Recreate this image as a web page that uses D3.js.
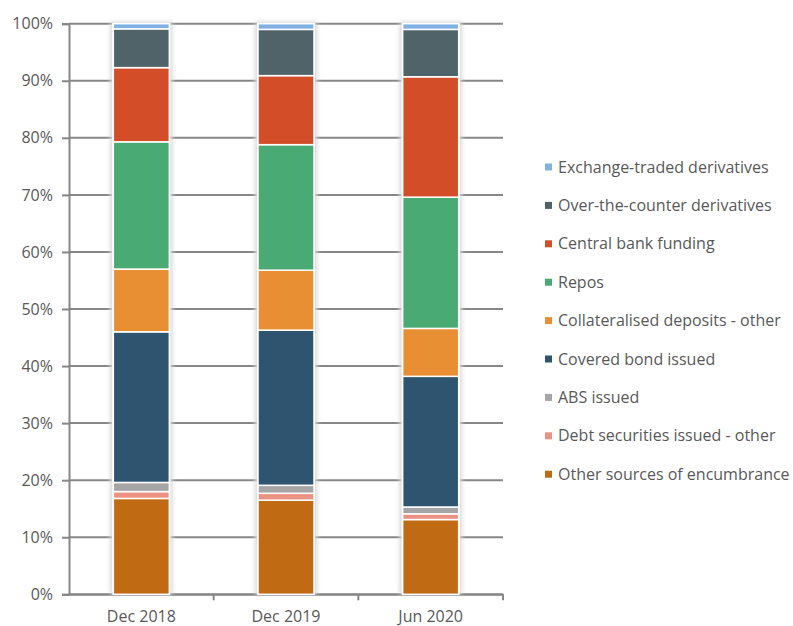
<!DOCTYPE html>
<html>
<head>
<meta charset="utf-8">
<script src="https://cdn.jsdelivr.net/npm/d3@7"></script>
<style>
  html, body { margin: 0; padding: 0; background: #fff; }
  svg { display: block; }
  text { font-family: "Open Sans", "Lato", sans-serif; fill: #595959; }
</style>
</head>
<body>
<svg id="chart" width="793" height="626"></svg>
<script>
// Periods on the x axis
const periods = ["Dec 2018", "Dec 2019", "Jun 2020"];

// Sources of encumbrance, bottom of the stack first
const sources = [
  "Other sources of encumbrance",
  "Debt securities issued - other",
  "ABS issued",
  "Covered bond issued",
  "Collateralised deposits - other",
  "Repos",
  "Central bank funding",
  "Over-the-counter derivatives",
  "Exchange-traded derivatives"
];

// Share of total encumbrance (%), one value per period
const otherSources     = [16.8, 16.5, 13.1];
const debtSecurities   = [1.2, 1.2, 1.0];
const absIssued        = [1.6, 1.4, 1.2];
const coveredBonds     = [26.4, 27.2, 22.9];
const collatDeposits   = [11.0, 10.5, 8.4];
const repos            = [22.3, 22.0, 23.0];
const centralBank      = [13.0, 12.1, 21.1];
const otcDerivatives   = [6.8, 8.1, 8.3];
const etdDerivatives   = [0.9, 1.0, 1.0];

const yTicks = [0, 10, 20, 30, 40, 50, 60, 70, 80, 90, 100];

const colors = {
  "Other sources of encumbrance": "#c06a14",
  "Debt securities issued - other": "#ec9282",
  "ABS issued": "#a5a5a5",
  "Covered bond issued": "#2e5470",
  "Collateralised deposits - other": "#e88f33",
  "Repos": "#49aa73",
  "Central bank funding": "#d24d28",
  "Over-the-counter derivatives": "#4f6369",
  "Exchange-traded derivatives": "#7fb2e2"
};

const seriesValues = [otherSources, debtSecurities, absIssued, coveredBonds,
  collatDeposits, repos, centralBank, otcDerivatives, etdDerivatives];

const rows = periods.map((p, i) => {
  const r = { period: p };
  sources.forEach((s, k) => { r[s] = seriesValues[k][i]; });
  return r;
});

const svg = d3.select("#chart");
const margin = { left: 69, right: 290, top: 23.7, bottom: 32 };
const plotW = 503 - margin.left;
const plotH = 594.3 - margin.top;

const x = d3.scaleBand().domain(periods).range([margin.left, margin.left + plotW]);
const y = d3.scaleLinear().domain([0, 100]).range([margin.top + plotH, margin.top]);
const barW = 56;

const defs = svg.append("defs");
const glow = defs.append("filter").attr("id", "glow")
  .attr("x", "-30%").attr("y", "-10%").attr("width", "160%").attr("height", "120%");
glow.append("feGaussianBlur").attr("in", "SourceGraphic").attr("stdDeviation", 2);

// Gridlines
svg.append("g").selectAll("line").data(yTicks).join("line")
  .attr("x1", margin.left).attr("x2", margin.left + plotW)
  .attr("y1", d => y(d)).attr("y2", d => y(d))
  .attr("stroke", "#878787").attr("stroke-width", 2);

// Y axis
const yAxis = d3.axisLeft(y).tickValues(yTicks).tickFormat(d => d + "%").tickSize(7).tickPadding(9);
const gy = svg.append("g").attr("transform", `translate(${margin.left},0)`).call(yAxis);
gy.select(".domain").attr("stroke", "#878787").attr("stroke-width", 2);
gy.selectAll(".tick line").attr("stroke", "#878787").attr("stroke-width", 2);
gy.selectAll("text").style("font-size", "16px").attr("fill", "#666");

// X axis
const xAxis = d3.axisBottom(x).tickSize(0).tickPadding(16);
const gx = svg.append("g").attr("transform", `translate(0,${y(0)})`).call(xAxis);
gx.select(".domain").attr("stroke", "#878787").attr("stroke-width", 2);
gx.selectAll("text").style("font-size", "16px").attr("fill", "#666");
// Category separator ticks
const seps = periods.slice(1).map(p => x(p)).concat([margin.left + plotW]);
gx.append("g").selectAll("line").data(seps).join("line")
  .attr("x1", d => d).attr("x2", d => d).attr("y1", 0).attr("y2", 6)
  .attr("stroke", "#878787").attr("stroke-width", 2);

// Stacked bars
const stacked = d3.stack().keys(sources)(rows);
const barX = p => x(p) + x.bandwidth() / 2 - barW / 2;

// soft halo behind each bar
svg.append("g").selectAll("rect").data(periods).join("rect")
  .attr("x", p => barX(p) - 3).attr("width", barW + 6)
  .attr("y", y(100) - 2).attr("height", y(0) - y(100) + 2)
  .attr("fill", "#d9d9d9").attr("filter", "url(#glow)");
svg.append("g").selectAll("rect").data(periods).join("rect")
  .attr("x", p => barX(p) - 1).attr("width", barW + 2)
  .attr("y", y(100) - 1).attr("height", y(0) - y(100) + 1)
  .attr("fill", "#fff");

svg.append("g").selectAll("g").data(stacked).join("g")
  .attr("fill", d => colors[d.key])
  .selectAll("rect").data(d => d).join("rect")
  .attr("x", d => barX(d.data.period))
  .attr("width", barW)
  .attr("y", d => y(d[1]))
  .attr("height", d => y(d[0]) - y(d[1]))
  .attr("stroke", "#fff").attr("stroke-width", 1.5);

// Legend, top entry is the top of the stack
const legendOrder = sources.slice().reverse();
const leg = svg.append("g").selectAll("g").data(legendOrder).join("g")
  .attr("transform", (d, i) => `translate(545,${167 + i * 38.4})`);
leg.append("rect").attr("x", 0).attr("y", -3.5).attr("width", 7).attr("height", 7)
  .attr("fill", d => colors[d]);
leg.append("text").attr("x", 13).attr("dy", "0.35em")
  .style("font-size", "16px").text(d => d);
</script>
</body>
</html>
